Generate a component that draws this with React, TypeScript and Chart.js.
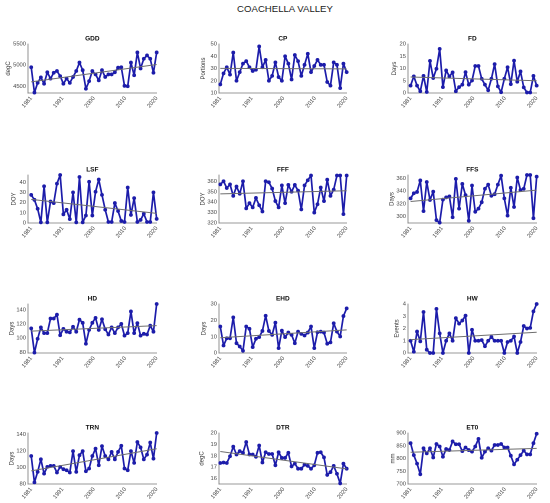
import React, { useEffect, useRef } from "react";
import { Chart, registerables } from "chart.js";
Chart.register(...registerables);

const YEARS = [1981, 1982, 1983, 1984, 1985, 1986, 1987, 1988, 1989, 1990, 1991, 1992, 1993, 1994, 1995, 1996, 1997, 1998, 1999, 2000, 2001, 2002, 2003, 2004, 2005, 2006, 2007, 2008, 2009, 2010, 2011, 2012, 2013, 2014, 2015, 2016, 2017, 2018, 2019, 2020];
const X_TICK_POS = [1981, 1990.75, 2000.5, 2010.25, 2020];
const X_TICK_LABELS = ["1981", "1991", "2000", "2010", "2020"];

const GDD = [4950, 4350, 4580, 4710, 4560, 4830, 4680, 4820, 4860, 4740, 4560, 4680, 4580, 4720, 4860, 5060, 4880, 4440, 4620, 4860, 4780, 4640, 4880, 4720, 4780, 4780, 4830, 4940, 4950, 4510, 4500, 5060, 4760, 5300, 4920, 5150, 5230, 5150, 4820, 5300];
const CP = [17, 26, 31, 25, 43, 20, 27, 34, 36, 31, 28, 29, 48, 31, 37, 20, 24, 35, 23, 20, 40, 34, 21, 41, 36, 24, 33, 42, 27, 32, 37, 33, 33, 19, 16, 35, 33, 14, 34, 27];
const FD = [3, 6.8, 3, 0.7, 7, 0.4, 13.1, 6.1, 9.9, 18, 2.4, 9.2, 6.8, 8.4, 0.7, 2.4, 3.4, 8.5, 3.4, 5.1, 11, 11, 5.8, 3.4, 1.1, 5.8, 11.8, 2.7, 0.3, 5.8, 10.5, 3.6, 13.2, 4.6, 8.8, 2.3, 0.2, 0.2, 7, 3];
const LSF = [27.5, 22.7, 13.9, 0.6, 36, 0.6, 21, 19.5, 38.5, 47, 8.5, 13, 3.8, 30, 0.6, 45, 0.6, 7.3, 40.4, 7.3, 30.6, 42.6, 27.5, 13, 1, 1, 19.5, 11.7, 2, 1, 34.7, 7.9, 24.3, 1, 3, 9, 1, 1, 30, 4];
const FFF = [357, 360, 353.5, 357, 346, 355, 348, 360, 334, 339, 335, 344, 337, 331, 360, 359, 353, 341, 335, 356, 339, 356.5, 350, 356.5, 351, 333, 356, 361, 365.5, 330, 338, 354, 341, 361.5, 346, 352, 365.5, 365.5, 328.5, 365.5];
const FFS = [328.5, 336.5, 338.5, 356.5, 308.5, 354, 326, 339, 294.5, 290.5, 326.5, 330, 331.5, 299, 359, 312.5, 351, 333.5, 293.5, 348.5, 307.5, 312.5, 322.5, 343.5, 350, 332.5, 335, 350, 364, 328.5, 301.5, 345, 315, 361, 341.5, 343.5, 365, 365, 297.5, 362.5];
const HD = [113.7, 79.5, 99, 115, 107, 107, 127.5, 127.5, 133, 104, 113, 109, 108, 116, 109, 126, 121.5, 92, 111.5, 121.5, 128.5, 111.5, 126.5, 112.5, 105, 115, 107, 115, 120, 103.5, 107, 137.5, 107, 121, 103.5, 106, 105, 117.5, 109, 148];
const EHD = [16.2, 4.6, 9, 9, 21.8, 6, 4, 1.4, 16.2, 14.8, 3.6, 8.7, 9.7, 13.5, 22.8, 13.5, 11.1, 18.6, 3, 13.7, 9.7, 12.5, 11.1, 6, 13.1, 11.7, 10.7, 12.5, 16.2, 3, 12.7, 13.1, 12.5, 5.7, 6.5, 18.2, 13.1, 10.1, 22.6, 27.3];
const HW = [1, 0.1, 1.75, 0.95, 3.35, 0.27, 0, 0, 3.6, 1.6, 0, 1, 1.6, 1, 2.85, 2.4, 2.65, 3.05, 0, 1.9, 1, 1, 1.05, 0.55, 1, 1.3, 1, 1, 1, 0, 0.9, 1, 1.35, 0, 0.9, 2.2, 2, 2.05, 3.4, 4];
const TRN = [114, 82, 94.7, 110, 92.6, 100.8, 102, 102, 94, 100.8, 98, 96.7, 94, 120, 94.7, 115, 120, 95.5, 98.8, 114, 123, 102.8, 126, 114, 110, 119, 110, 119, 126.5, 98.8, 96.7, 120, 105.7, 131, 124.5, 110, 115.7, 130.4, 110.8, 142];
const DTR = [17.35, 17.4, 17.35, 17.95, 18.8, 18.1, 18.4, 18.25, 19.2, 18.1, 18.1, 17.9, 18.9, 17.4, 18.3, 18.15, 18.15, 17.15, 18.3, 17.8, 17.8, 18.25, 17.05, 17.3, 16.85, 16.85, 17.2, 17.1, 16.85, 17.15, 18.25, 18.3, 17.85, 16.3, 16.55, 17.1, 16.4, 15.55, 17.3, 16.85];
const ET0 = [860, 813, 780, 738, 840, 820, 840, 804, 857, 847, 807, 837, 833, 867, 856, 856, 829, 843, 833, 827, 847, 877, 803, 827, 840, 831, 853, 853, 857, 843, 843, 811, 777, 795, 813, 831, 816, 816, 860, 897];

const GDD_TICKS = [4500, 5000, 5500];
const CP_TICKS = [10, 20, 30, 40, 50];
const FD_TICKS = [0, 5, 10, 15, 20];
const LSF_TICKS = [0, 10, 20, 30, 40];
const FFF_TICKS = [320, 330, 340, 350, 360];
const FFS_TICKS = [300, 320, 340, 360];
const HD_TICKS = [80, 100, 120, 140];
const EHD_TICKS = [0, 10, 20, 30];
const HW_TICKS = [0, 1, 2, 3, 4];
const TRN_TICKS = [80, 100, 120, 140];
const DTR_TICKS = [16, 17, 18, 19, 20];
const ET0_TICKS = [700, 750, 800, 850, 900];

const BLUE = "#1c1caa";
const TREND = "#6e6e6e";
const FONT = "'Liberation Sans', Arial, Helvetica, sans-serif";

const COL_LEFT = [28, 219, 408];
const COL_RIGHT = [161, 351, 541];
const COL_XMIN = [1980, 1980.6, 1980.2];
const ROW_TOP = [44, 175, 304, 433];
const ROW_BOTTOM = [93, 223, 353, 484];

type PanelDef = {
  title: string;
  ylabel: string;
  data: number[];
  yMin: number;
  yMax: number;
  yTicks: number[];
  row: number;
  col: number;
  labelDist: number;
};

const PANELS: PanelDef[] = [
  { title: "GDD", ylabel: "degC", data: GDD, yMin: 4340, yMax: 5500, yTicks: GDD_TICKS, row: 0, col: 0, labelDist: 19.7 },
  { title: "CP", ylabel: "Portions", data: CP, yMin: 10, yMax: 50, yTicks: CP_TICKS, row: 0, col: 1, labelDist: 15.7 },
  { title: "FD", ylabel: "Days", data: FD, yMin: 0, yMax: 20, yTicks: FD_TICKS, row: 0, col: 2, labelDist: 13.7 },
  { title: "LSF", ylabel: "DOY", data: LSF, yMin: 0, yMax: 47, yTicks: LSF_TICKS, row: 1, col: 0, labelDist: 14 },
  { title: "FFF", ylabel: "DOY", data: FFF, yMin: 320, yMax: 366, yTicks: FFF_TICKS, row: 1, col: 1, labelDist: 16.3 },
  { title: "FFS", ylabel: "Days", data: FFS, yMin: 290, yMax: 365, yTicks: FFS_TICKS, row: 1, col: 2, labelDist: 16.3 },
  { title: "HD", ylabel: "Days", data: HD, yMin: 79, yMax: 148, yTicks: HD_TICKS, row: 2, col: 0, labelDist: 16.3 },
  { title: "EHD", ylabel: "Days", data: EHD, yMin: 0, yMax: 30, yTicks: EHD_TICKS, row: 2, col: 1, labelDist: 15 },
  { title: "HW", ylabel: "Events", data: HW, yMin: 0, yMax: 4, yTicks: HW_TICKS, row: 2, col: 2, labelDist: 11.3 },
  { title: "TRN", ylabel: "Days", data: TRN, yMin: 80, yMax: 142, yTicks: TRN_TICKS, row: 3, col: 0, labelDist: 16.3 },
  { title: "DTR", ylabel: "degC", data: DTR, yMin: 15.5, yMax: 20, yTicks: DTR_TICKS, row: 3, col: 1, labelDist: 17.3 },
  { title: "ET0", ylabel: "mm", data: ET0, yMin: 700, yMax: 900, yTicks: ET0_TICKS, row: 3, col: 2, labelDist: 15.3 },
];

function trendEnds(xs: number[], ys: number[]) {
  const n = xs.length;
  let sx = 0, sy = 0, sxx = 0, sxy = 0;
  for (let i = 0; i < n; i++) {
    sx += xs[i]; sy += ys[i]; sxx += xs[i] * xs[i]; sxy += xs[i] * ys[i];
  }
  const b = (n * sxy - sx * sy) / (n * sxx - sx * sx);
  const a = (sy - b * sx) / n;
  return [
    { x: xs[0], y: a + b * xs[0] },
    { x: xs[n - 1], y: a + b * xs[n - 1] },
  ];
}

const YW = 28;
const PR = 3;
const TH = 9;
const XH = 24;
const TITLE_SIZE = 6.5;
const TICK_SIZE = 5.8;
const YLABEL_SIZE = 6;

function Panel({ p }: { p: PanelDef }) {
  const ref = useRef<HTMLCanvasElement>(null);
  const left = COL_LEFT[p.col] - YW;
  const width = COL_RIGHT[p.col] - COL_LEFT[p.col] + YW + PR;
  const top = ROW_TOP[p.row] - TH;
  const height = ROW_BOTTOM[p.row] - ROW_TOP[p.row] + TH + XH;

  useEffect(() => {
    if (!ref.current) return;
    const pts = YEARS.map((y, i) => ({ x: y, y: p.data[i] }));
    const trend = trendEnds(YEARS, p.data);
    const chart = new Chart(ref.current, {
      type: "line",
      data: {
        datasets: [
          {
            data: trend,
            borderColor: TREND,
            borderWidth: 1,
            pointRadius: 0,
            order: 0,
            clip: 4,
          } as any,
          {
            data: pts,
            borderColor: BLUE,
            backgroundColor: BLUE,
            pointBackgroundColor: BLUE,
            pointBorderColor: BLUE,
            borderWidth: 1.7,
            borderJoinStyle: "round",
            borderCapStyle: "round",
            pointRadius: 1.9,
            pointBorderWidth: 0,
            tension: 0,
            order: 1,
            clip: 4,
          } as any,
        ],
      },
      options: {
        responsive: false,
        animation: false,
        devicePixelRatio: 2,
        layout: { padding: { left: 0, right: PR, top: 0, bottom: 0 }, autoPadding: false } as any,
        plugins: {
          legend: { display: false },
          tooltip: { enabled: false },
          title: {
            display: true,
            text: p.title,
            fullSize: false,
            color: "#111",
            font: { family: FONT, size: TITLE_SIZE, weight: "bold", lineHeight: 1.2 },
            padding: { top: 0, bottom: TH - TITLE_SIZE * 1.2 },
          },
        },
        scales: {
          x: {
            type: "linear",
            min: COL_XMIN[p.col],
            max: 2020,
            grid: { display: false, drawTicks: false },
            border: { display: true, color: "#777", width: 0.8 },
            ticks: {
              color: "#444",
              font: { family: FONT, size: TICK_SIZE },
              minRotation: 50,
              maxRotation: 50,
              padding: 2,
              autoSkip: false,
              callback: (_v: any, i: number) => X_TICK_LABELS[i],
            },
            afterBuildTicks: (s: any) => {
              s.ticks = X_TICK_POS.map((v) => ({ value: v }));
            },
            afterFit: (s: any) => {
              s.height = XH;
            },
          },
          y: {
            type: "linear",
            min: p.yMin,
            max: p.yMax,
            grid: { display: false, drawTicks: false },
            border: { display: true, color: "#777", width: 0.8 },
            ticks: {
              color: "#444",
              font: { family: FONT, size: TICK_SIZE },
              padding: 2,
              autoSkip: false,
              callback: (v: any) => String(v),
            },
            title: {
              display: true,
              text: p.ylabel,
              color: "#333",
              font: { family: FONT, size: YLABEL_SIZE, lineHeight: 1.2 },
              padding: { top: Math.max(0, YW - p.labelDist - YLABEL_SIZE * 0.6), bottom: 0 },
            },
            afterBuildTicks: (s: any) => {
              s.ticks = p.yTicks.map((v) => ({ value: v }));
            },
            afterFit: (s: any) => {
              s.width = YW;
            },
          },
        },
      } as any,
    });
    return () => chart.destroy();
  }, []);

  return (
    <canvas
      ref={ref}
      width={width}
      height={height}
      style={{ position: "absolute", left, top, width, height }}
    />
  );
}

export default function App() {
  return (
    <div style={{ position: "absolute", left: 0, top: 0, width: 550, height: 503, background: "#fff", overflow: "hidden" }}>
      <div
        style={{
          position: "absolute",
          left: 0,
          width: 570,
          top: 3,
          textAlign: "center",
          fontFamily: FONT,
          fontSize: 9.6,
          color: "#1a1a1a",
          lineHeight: "12px",
        }}
      >
        COACHELLA VALLEY
      </div>
      {PANELS.map((p) => (
        <Panel key={p.title} p={p} />
      ))}
    </div>
  );
}
